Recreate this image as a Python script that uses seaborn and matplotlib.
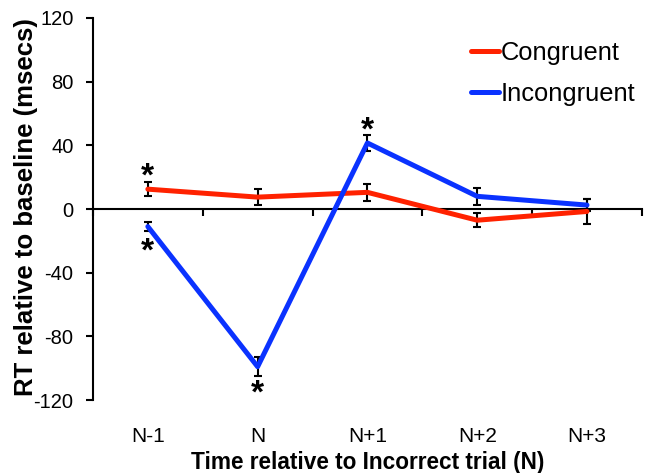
import matplotlib

matplotlib.use("Agg")

import matplotlib.pyplot as plt
import numpy as np
import pandas as pd
import seaborn as sns

conditions = ["N-1", "N", "N+1", "N+2", "N+3"]
congruent = [12.5, 7.5, 10.5, -7, -1.5]
congruent_err = [4.5, 5, 5.5, 4.5, 8]
incongruent = [-11, -99, 41.5, 8, 2.5]
incongruent_err = [3, 6, 5, 5.5, 4]

# asterisks: (condition index, y position)
star_idx = [0, 0, 1, 2]
star_y = [20, -27, -116, 49]

series_names = ["Congruent", "Incongruent"]
colors = {"Congruent": "#ff2200", "Incongruent": "#0a32ff"}

pos = np.arange(len(conditions))
df = pd.DataFrame({
    "pos": np.concatenate([pos, pos]),
    "rt": congruent + incongruent,
    "err": congruent_err + incongruent_err,
    "cond": ["Congruent"] * len(pos) + ["Incongruent"] * len(pos),
})

sns.set_style("white")
plt.rcParams["font.family"] = ["Liberation Sans", "DejaVu Sans"]
plt.rcParams["axes.unicode_minus"] = False
plt.rcParams["text.color"] = "black"
plt.rcParams["axes.labelcolor"] = "black"
plt.rcParams["xtick.color"] = "black"
plt.rcParams["ytick.color"] = "black"

fig = plt.figure(figsize=(6.5, 4.73), dpi=100)
ax = fig.add_axes([0.143, 0.154, 0.8445, 0.808])

for name in series_names:
    sub = df[df["cond"] == name]
    ax.errorbar(sub["pos"], sub["rt"], yerr=sub["err"], fmt="none",
                ecolor="black", elinewidth=1.5, capsize=3, capthick=1.5, zorder=2)

sns.lineplot(data=df, x="pos", y="rt", hue="cond", hue_order=series_names,
             palette=colors, linewidth=3.6, ax=ax, zorder=3)

for i, y in zip(star_idx, star_y):
    ax.text(pos[i], y, "*", ha="center", va="center", fontsize=24, fontweight="bold")

ax.set_xlim(-0.5, len(conditions) - 0.5)
ax.set_ylim(-120, 120)
ax.set_yticks([-120, -80, -40, 0, 40, 80, 120])
ax.set_xticks(np.arange(len(conditions) + 1) - 0.5)
ax.set_xticklabels([])
ax.spines["bottom"].set_position(("data", 0))
ax.spines["top"].set_visible(False)
ax.spines["right"].set_visible(False)
for s in ["left", "bottom"]:
    ax.spines[s].set_color("black")
    ax.spines[s].set_linewidth(1.5)
ax.tick_params(axis="both", direction="out", length=5, width=1.5, color="black",
               bottom=True, left=True)
ax.tick_params(axis="y", labelsize=14.5, pad=9)

for i, c in enumerate(conditions):
    ax.text(pos[i], -0.094, c, transform=ax.get_xaxis_transform(),
            ha="center", va="center", fontsize=15)

ax.set_xlabel("")
ax.set_ylabel("RT relative to baseline (msecs)", fontsize=18.5, fontweight="bold")
ax.yaxis.set_label_coords(-0.1, 0.504)
fig.text(0.566, 0.022, "Time relative to Incorrect trial (N)", ha="center", va="center",
         fontsize=16.3, fontweight="bold")

leg = ax.legend(loc="upper right", bbox_to_anchor=(1.03, 1.0), frameon=False,
                fontsize=18.4, handlelength=1.1, handletextpad=0.08, labelspacing=0.65)
for h in leg.get_lines():
    h.set_linewidth(3.6)

fig.savefig("out.png", dpi=100)
plt.close(fig)
